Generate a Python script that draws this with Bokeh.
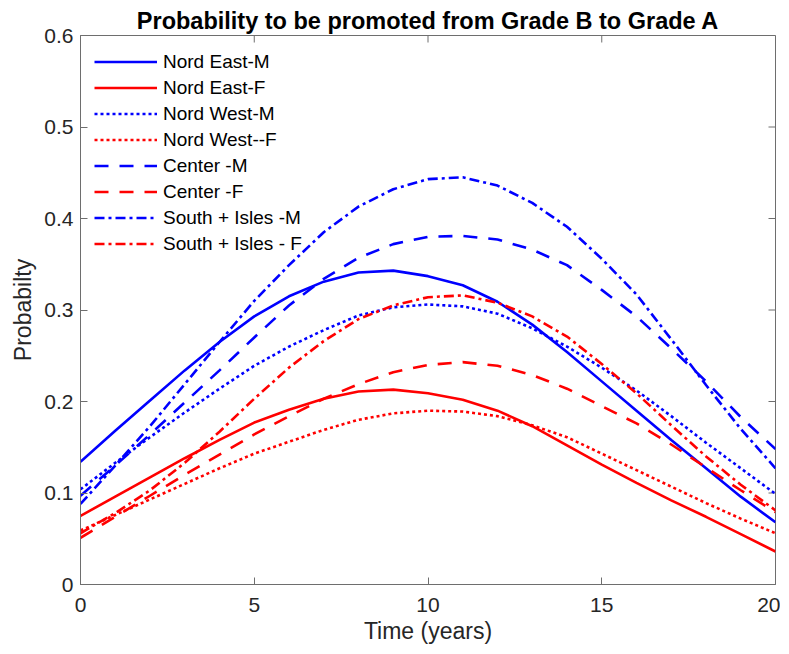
from bokeh.plotting import figure
from bokeh.models import Range1d, FixedTicker, Legend, LegendItem
from bokeh.embed import file_html
from bokeh.resources import INLINE

# ---- data ----
years = list(range(21))
nord_east_m = [0.134, 0.168, 0.201, 0.234, 0.265, 0.293, 0.315, 0.331, 0.341, 0.343, 0.337,
               0.327, 0.309, 0.284, 0.254, 0.222, 0.190, 0.158, 0.127, 0.096, 0.068]
nord_east_f = [0.075, 0.096, 0.117, 0.138, 0.158, 0.177, 0.191, 0.203, 0.211, 0.213, 0.209,
               0.202, 0.190, 0.173, 0.152, 0.131, 0.111, 0.092, 0.074, 0.055, 0.036]
nord_west_m = [0.104, 0.133, 0.161, 0.188, 0.214, 0.239, 0.260, 0.278, 0.294, 0.303, 0.306,
               0.304, 0.296, 0.280, 0.260, 0.237, 0.212, 0.184, 0.155, 0.127, 0.099]
nord_west_f = [0.059, 0.076, 0.093, 0.110, 0.127, 0.143, 0.156, 0.169, 0.180, 0.187, 0.190,
               0.189, 0.184, 0.174, 0.161, 0.143, 0.125, 0.107, 0.089, 0.072, 0.056]
center_m = [0.097, 0.130, 0.164, 0.199, 0.234, 0.270, 0.305, 0.334, 0.357, 0.372, 0.380,
            0.381, 0.377, 0.366, 0.349, 0.322, 0.293, 0.258, 0.222, 0.183, 0.148]
center_f = [0.051, 0.074, 0.097, 0.120, 0.142, 0.164, 0.184, 0.203, 0.219, 0.232, 0.240,
            0.243, 0.239, 0.229, 0.214, 0.195, 0.176, 0.153, 0.128, 0.103, 0.079]
south_m = [0.088, 0.130, 0.173, 0.219, 0.265, 0.310, 0.349, 0.385, 0.413, 0.432, 0.443,
           0.445, 0.436, 0.417, 0.391, 0.356, 0.317, 0.268, 0.218, 0.170, 0.127]
south_f = [0.056, 0.078, 0.103, 0.133, 0.167, 0.203, 0.237, 0.266, 0.290, 0.305, 0.314,
           0.316, 0.308, 0.293, 0.271, 0.241, 0.209, 0.174, 0.140, 0.109, 0.081]

series_names = ["Nord East-M", "Nord East-F", "Nord West-M", "Nord West--F",
                "Center -M", "Center -F", "South + Isles -M", "South + Isles - F"]
series_values = [nord_east_m, nord_east_f, nord_west_m, nord_west_f,
                 center_m, center_f, south_m, south_f]

x_ticks = [0, 5, 10, 15, 20]
y_ticks = [0, 0.1, 0.2, 0.3, 0.4, 0.5, 0.6]
y_tick_labels = ["0", "0.1", "0.2", "0.3", "0.4", "0.5", "0.6"]
X_MIN, X_MAX = 0, 20
Y_MIN, Y_MAX = 0, 0.6

# ---- styles / layout ----
BLUE = "#0000FF"
RED = "#FF0000"
colors = [BLUE, RED, BLUE, RED, BLUE, RED, BLUE, RED]
dashes = ["solid", "solid", "3 3", "3 3", "14 11", "14 11", "10 4 3 4", "10 4 3 4"]
FONT = "Liberation Sans"
AXIS_COL = "#6e6e6e"
TEXT_COL = "#262626"
FRAME_W, FRAME_H = 695, 549
B_LEFT, B_RIGHT, B_TOP, B_BOTTOM = 80, 5, 35, 62
TICK_PX = 7

p = figure(frame_width=FRAME_W, frame_height=FRAME_H, output_backend="svg",
           toolbar_location=None,
           x_range=Range1d(X_MIN, X_MAX), y_range=Range1d(Y_MIN, Y_MAX),
           min_border_left=B_LEFT, min_border_right=B_RIGHT,
           min_border_top=B_TOP, min_border_bottom=B_BOTTOM,
           title="Probability to be promoted from Grade B to Grade A")

p.background_fill_color = "white"
p.border_fill_color = "white"
p.outline_line_color = AXIS_COL
p.outline_line_width = 1
p.xgrid.visible = False
p.ygrid.visible = False

p.title.text_font = FONT
p.title.text_font_size = "23.5px"
p.title.text_font_style = "bold"
p.title.text_color = "#000000"
p.title.align = "center"
p.title.standoff = 4

bx = p.below[0]
ly = p.left[0]
for ax in (bx, ly):
    ax.axis_line_color = AXIS_COL
    ax.major_tick_line_color = AXIS_COL
    ax.major_tick_in = TICK_PX
    ax.major_tick_out = 0
    ax.minor_tick_line_color = None
    ax.major_label_text_font = FONT
    ax.major_label_text_font_size = "21px"
    ax.major_label_text_color = TEXT_COL
    ax.axis_label_text_font = FONT
    ax.axis_label_text_font_size = "23px"
    ax.axis_label_text_font_style = "normal"
    ax.axis_label_text_color = TEXT_COL

bx.ticker = FixedTicker(ticks=x_ticks)
bx.axis_label = "Time (years)"
bx.major_label_standoff = 13
bx.axis_label_standoff = 3

ly.ticker = FixedTicker(ticks=y_ticks)
ly.major_label_overrides = dict(zip(y_ticks, y_tick_labels))
ly.axis_label = "Probabilty"
ly.major_label_standoff = 7
ly.axis_label_standoff = 5

# mirrored inward ticks on the top and right edges of the box
dy = TICK_PX * (Y_MAX - Y_MIN) / FRAME_H
dx = TICK_PX * (X_MAX - X_MIN) / FRAME_W
p.segment(x0=x_ticks, y0=[Y_MAX] * len(x_ticks), x1=x_ticks, y1=[Y_MAX - dy] * len(x_ticks),
          line_color=AXIS_COL, line_width=1)
p.segment(x0=[X_MAX] * len(y_ticks), y0=y_ticks, x1=[X_MAX - dx] * len(y_ticks), y1=y_ticks,
          line_color=AXIS_COL, line_width=1)

items = []
for name, vals, col, dash in zip(series_names, series_values, colors, dashes):
    r = p.line(years, vals, line_color=col, line_width=2.6, line_dash=dash)
    items.append(LegendItem(label=name, renderers=[r]))

legend = Legend(items=items, location="top_left", border_line_alpha=0,
                background_fill_alpha=0, margin=5, padding=9,
                label_text_font=FONT, label_text_font_size="19px",
                label_text_color="#000000",
                glyph_width=63, glyph_height=25, label_height=25, spacing=1,
                label_standoff=6)
p.add_layout(legend)

open("out.html", "w").write(file_html(p, INLINE))
